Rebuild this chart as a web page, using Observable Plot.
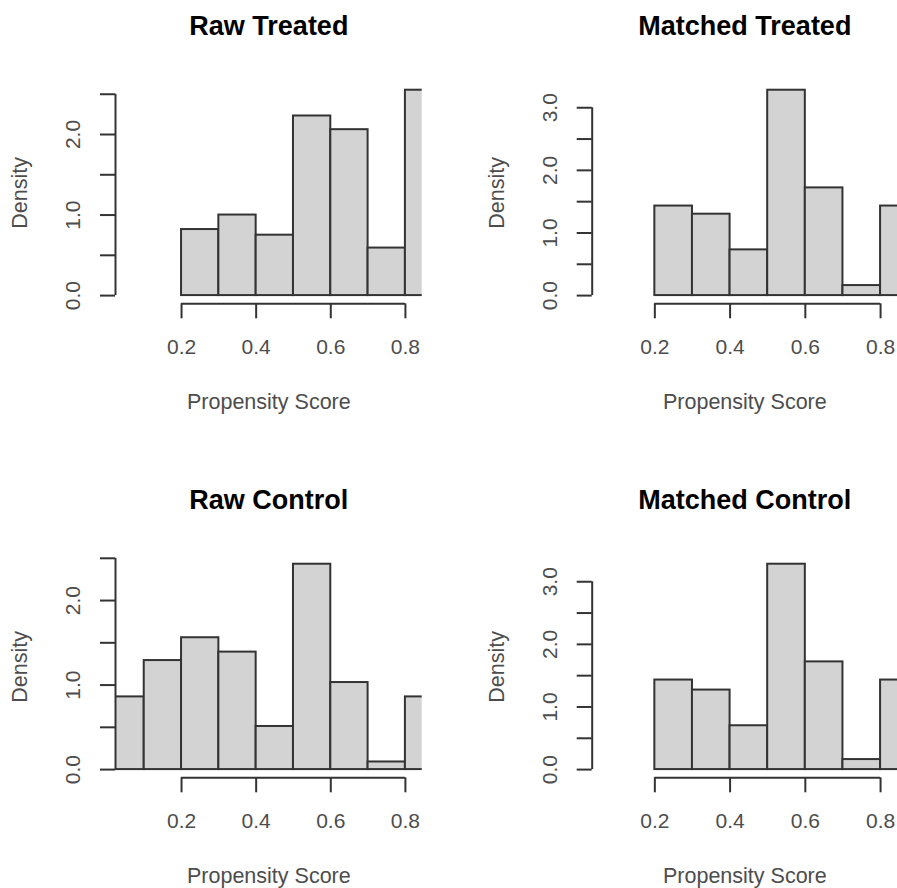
<!DOCTYPE html>
<html>
<head>
<meta charset="utf-8">
<script src="https://cdn.jsdelivr.net/npm/d3@7"></script>
<script src="https://cdn.jsdelivr.net/npm/@observablehq/plot@0.6"></script>
<style>
  html, body { margin: 0; padding: 0; background: #fff; }
  #chart { position: relative; width: 897px; height: 888px; overflow: hidden; font-family: "Liberation Sans", Arial, sans-serif; }
  .panel { position: absolute; }
  .panel svg { overflow: visible; }
</style>
</head>
<body>
<div id="chart"></div>
<script>
// ---- data (densities) ----
const panelTitles = ["Raw Treated", "Matched Treated", "Raw Control", "Matched Control"];
const treatedEdges = [0.2, 0.3, 0.4, 0.5, 0.6, 0.7, 0.8, 0.9];
const controlEdges = [0.0, 0.1, 0.2, 0.3, 0.4, 0.5, 0.6, 0.7, 0.8, 0.9];
const rawTreated = [0.82, 1.00, 0.75, 2.23, 2.06, 0.59, 2.55];
const matchedTreated = [1.43, 1.30, 0.73, 3.28, 1.72, 0.16, 1.43];
const rawControl = [0.86, 1.29, 1.56, 1.39, 0.51, 2.43, 1.03, 0.09, 0.86];
const matchedControl = [1.43, 1.27, 0.70, 3.28, 1.72, 0.16, 1.43];
const xTicks = [0.2, 0.4, 0.6, 0.8];
const yTicksRaw = [0, 0.5, 1, 1.5, 2, 2.5];
const yTicksMatched = [0, 0.5, 1, 1.5, 2, 2.5, 3];
const xLabel = "Propensity Score";
const yLabel = "Density";

function bins(edges, dens) {
  return dens.map((d, i) => ({x1: edges[i], x2: edges[i + 1], density: d}));
}

const panels = [
  {title: panelTitles[0], data: bins(treatedEdges, rawTreated), yTicks: yTicksRaw, col: 0, row: 0},
  {title: panelTitles[1], data: bins(treatedEdges, matchedTreated), yTicks: yTicksMatched, col: 1, row: 0},
  {title: panelTitles[2], data: bins(controlEdges, rawControl), yTicks: yTicksRaw, col: 0, row: 1},
  {title: panelTitles[3], data: bins(treatedEdges, matchedControl), yTicks: yTicksMatched, col: 1, row: 1}
];

// ---- layout ----
const cols = [
  {left: 0, width: 450, marginLeft: 115, marginRight: 28.3, xDomain: [0.023, 0.845]},
  {left: 450, width: 447, marginLeft: 141.7, marginRight: 0, xDomain: [0.0335, 0.845]}
];
const rows = [{top: 0}, {top: 474}];
const H = 414, MT = 81.5, MB = 110.7;
const ink = "#333";
const textGray = "#4d4d4d";
const font = "'Liberation Sans', Arial, sans-serif";

const chart = document.getElementById("chart");

for (const p of panels) {
  const c = cols[p.col], r = rows[p.row];
  const maxD = d3.max(p.data, d => d.density);
  const yDomain = [-0.04 * maxD, 1.04 * maxD];
  const labelTicks = p.yTicks.filter(t => Number.isInteger(t));
  const svg = Plot.plot({
    width: c.width,
    height: H,
    marginLeft: c.marginLeft,
    marginRight: c.marginRight,
    marginTop: MT,
    marginBottom: MB,
    style: {fontFamily: font, background: "transparent", overflow: "visible"},
    x: {domain: c.xDomain, axis: null},
    y: {domain: yDomain, axis: null},
    marks: [
      Plot.rectY(p.data, {x1: "x1", x2: "x2", y: "density", fill: "#d3d3d3", stroke: ink, strokeWidth: 2, clip: true}),
      // y axis
      Plot.ruleX([c.xDomain[0]], {y1: 0, y2: d3.max(p.yTicks), stroke: ink, strokeWidth: 2}),
      Plot.axisY(p.yTicks, {anchor: "left", tickSize: 15, tickFormat: () => "", stroke: ink, strokeWidth: 2, label: null}),
      Plot.text(labelTicks, {frameAnchor: "left", y: d => d, dx: -42, rotate: -90, text: d => d.toFixed(1), fontSize: 21, fill: textGray, textAnchor: "middle", lineAnchor: "middle"}),
      // x axis
      Plot.ruleY([yDomain[0]], {x1: xTicks[0], x2: xTicks[xTicks.length - 1], stroke: ink, strokeWidth: 2}),
      Plot.axisX(xTicks, {anchor: "bottom", tickSize: 15, tickFormat: () => "", stroke: ink, strokeWidth: 2, label: null}),
      Plot.text(xTicks, {frameAnchor: "bottom", x: d => d, dy: 43.7, text: d => d.toFixed(1), fontSize: 21, fill: textGray, textAnchor: "middle", lineAnchor: "middle"}),
      // titles and labels
      Plot.text([p.title], {frameAnchor: "top", dy: -56, fontSize: 27, fontWeight: "bold", fill: "#000", textAnchor: "middle", lineAnchor: "middle"}),
      Plot.text([xLabel], {frameAnchor: "bottom", dy: 98.7, fontSize: 21.5, fill: textGray, textAnchor: "middle", lineAnchor: "middle"}),
      Plot.text([yLabel], {frameAnchor: "left", dx: -95.5, rotate: -90, fontSize: 21.5, fill: textGray, textAnchor: "middle", lineAnchor: "middle"})
    ]
  });
  const div = document.createElement("div");
  div.className = "panel";
  div.style.left = c.left + "px";
  div.style.top = r.top + "px";
  div.appendChild(svg);
  chart.appendChild(div);
}
</script>
</body>
</html>
